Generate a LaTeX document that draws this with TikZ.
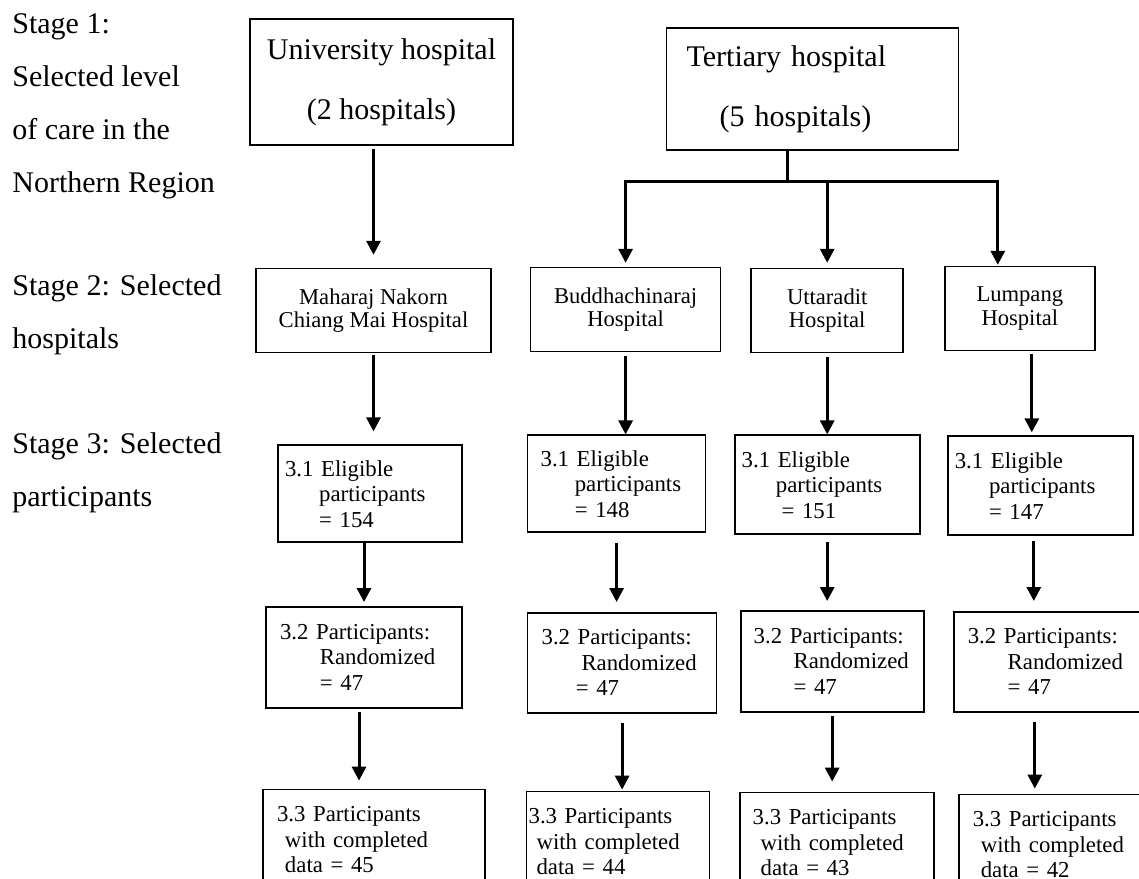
\documentclass[tikz,border=0pt]{standalone}
\usepackage{fontspec}
\setmainfont{Liberation Serif}
\usetikzlibrary{positioning}
\usetikzlibrary{arrows.meta}
\newcommand{\stagefont}{\fontsize{15}{26.5}\selectfont}
\newcommand{\levelfont}{\fontsize{15}{30}\selectfont}
\newcommand{\hospfont}{\fontsize{11.3}{11.6}\selectfont}
\newcommand{\partfont}{\fontsize{11.4}{12.75}\selectfont}
\tikzset{
  % Stage captions in the left margin
  stagelbl/.style={anchor=north west, inner sep=0pt, align=left, font=\stagefont},
  % Level of care (stage 1)
  levelbox/.style={draw, line width=0.8pt, font=\levelfont, align=center,
    inner sep=0pt, minimum width=#1, minimum height=63pt},
  % Selected hospital (stage 2)
  hospbox/.style={draw, line width=0.8pt, font=\hospfont, align=center,
    inner sep=0pt, minimum width=#1, minimum height=42pt},
  % Participant counts (stage 3): text width / left pad / height
  part/.style n args={3}{draw, line width=0.8pt, font=\partfont, align=left,
    text width=#1, inner xsep=#2, inner ysep=0pt, minimum height=#3},
  % Connectors
  arr/.style={-{Triangle[length=7pt,width=7pt]}, line width=1.5pt},
  link/.style={line width=1.5pt},
}

\begin{document}
\begin{tikzpicture}
  \clip (0,0) rectangle (569.5pt,-439pt);

  % --- Stage captions -------------------------------------------------
  \node[stagelbl] (cap1) at (6pt,-6.5pt)
       {Stage 1:\\Selected level\\of care in the\\Northern Region};
  \node[stagelbl] (cap2) at (6pt,-137pt) {Stage 2: Selected\\hospitals};
  \node[stagelbl] (cap3) at (6pt,-216pt) {Stage 3: Selected\\participants};

  % --- Stage 1 ----------------------------------------------------------
  \node[levelbox=131.5pt] (univ) at (190.75pt,-41pt)
       {University hospital\\(2 hospitals)};
  \node[levelbox=146pt, minimum height=61pt, align=left, text width=126pt,
        inner xsep=10pt, right=76pt of univ, yshift=-3.5pt] (tert)
       {Tertiary hospital\\\hspace*{16.5pt}(5 hospitals)};

  % --- Stage 2 ----------------------------------------------------------
  \node[hospbox=117.5pt, below=61pt of univ, xshift=-4pt] (mah)
       {Maharaj Nakorn\\Chiang Mai Hospital};
  \node[hospbox=95pt, right=19pt of mah, yshift=0.5pt]    (bud) {Buddhachinaraj\\Hospital};
  \node[hospbox=76pt, right=14.5pt of bud, yshift=-0.5pt] (utt) {Uttaradit\\Hospital};
  \node[hospbox=75pt, right=20pt of utt, yshift=1pt]      (lum) {Lumpang\\Hospital};

  % --- Stage 3: eligible ------------------------------------------------
  \node[part={85pt}{3.5pt}{48.5pt}, below=45.5pt of mah, xshift=-1.75pt] (e1mah)
       {3.1 Eligible\\\hspace*{1.5em}participants\\\hspace*{1.5em}= 154};
  \node[part={76pt}{6.5pt}{48.5pt}, below=41pt of bud, xshift=-4.5pt] (e1bud)
       {3.1 Eligible\\\hspace*{1.5em}participants\\\hspace*{1.5em}= 148};
  \node[part={85.5pt}{3.5pt}{49.5pt}, below=40.5pt of utt] (e1utt)
       {3.1 Eligible\\\hspace*{1.5em}participants\\\hspace*{1.75em}= 151};
  \node[part={85.5pt}{3.5pt}{49.5pt}, below=42pt of lum, xshift=10.25pt] (e1lum)
       {3.1 Eligible\\\hspace*{1.5em}participants\\\hspace*{1.5em}= 147};

  % --- Stage 3: randomized ----------------------------------------------
  \node[part={84pt}{7pt}{50.5pt}, below=31.5pt of e1mah, xshift=-3pt] (rmah)
       {3.2 Participants:\\\hspace*{1.75em}Randomized\\\hspace*{1.75em}= 47};
  \node[part={80.5pt}{7pt}{50pt}, below=39.5pt of e1bud, xshift=2.75pt] (rbud)
       {3.2 Participants:\\\hspace*{1.75em}Randomized\\\hspace*{1.5em}= 47};
  \node[part={78.5pt}{6.5pt}{50.5pt}, below=37.5pt of e1utt, xshift=2.5pt] (rutt)
       {3.2 Participants:\\\hspace*{1.75em}Randomized\\\hspace*{1.75em}= 47};
  \node[part={83.5pt}{7pt}{50pt}, below=37.5pt of e1lum, xshift=5.5pt] (rlum)
       {3.2 Participants:\\\hspace*{1.75em}Randomized\\\hspace*{1.75em}= 47};

  % --- Stage 3: completed -----------------------------------------------
  \node[part={97pt}{7pt}{50.5pt}, below=40pt of rmah, xshift=5pt] (cmah)
       {3.3 Participants\\\hspace*{0.35em}with completed\\\hspace*{0.35em}data = 45};
  \node[part={89.5pt}{1pt}{50.5pt}, below=38.5pt of rbud, xshift=-2pt] (cbud)
       {3.3 Participants\\\hspace*{0.35em}with completed\\\hspace*{0.35em}data = 44};
  \node[part={84pt}{6.5pt}{50.5pt}, below=39.5pt of rutt, xshift=2.25pt] (cutt)
       {3.3 Participants\\\hspace*{0.35em}with completed\\\hspace*{0.35em}data = 43};
  \node[part={81pt}{7pt}{50.5pt}, below=40.5pt of rlum, xshift=1.25pt] (clum)
       {3.3 Participants\\\hspace*{0.35em}with completed\\\hspace*{0.35em}data = 42};

  % --- Connectors -------------------------------------------------------
  \draw[arr, shorten <=1.5pt, shorten >=6.5pt] (mah.north |- univ.south) -- (mah.north);

  \coordinate (split)  at ([xshift=-12.5pt,yshift=-15.5pt]tert.south);
  \coordinate (lumtop) at ([xshift=-11pt]lum.north);
  \draw[link] ([xshift=-12.5pt]tert.south) -- (split);
  \draw[arr, shorten >=2pt]   (split) -| (bud.north);
  \draw[arr, shorten >=0.5pt] (split) -| (lumtop);
  \draw[arr, shorten >=2.5pt] (split -| utt.north) -- (utt.north);

  \coordinate (lumout) at ([xshift=6pt]lum.south);
  \draw[arr, shorten <=1pt, shorten >=6.5pt] (mah.south) -- (mah.south |- e1mah.north);
  \draw[arr, shorten <=2pt] (bud.south) -- (bud.south |- e1bud.north);
  \draw[arr, shorten <=2pt] (utt.south) -- (utt.south |- e1utt.north);
  \draw[arr, shorten <=1.5pt, shorten >=1.5pt] (lumout) -- (lumout |- e1lum.north);

  \coordinate (e1lumout) at ([xshift=-3.25pt]e1lum.south);
  \draw[arr, shorten >=2pt] (rmah.north |- e1mah.south) -- (rmah.north);
  \draw[arr, shorten <=5pt, shorten >=5pt] (e1bud.south) -- (e1bud.south |- rbud.north);
  \draw[arr, shorten <=3.5pt, shorten >=4.5pt] (e1utt.south) -- (e1utt.south |- rutt.north);
  \draw[arr, shorten <=2.5pt, shorten >=5pt] (e1lumout) -- (e1lumout |- rlum.north);

  \coordinate (rmahout) at ([xshift=-2.5pt]rmah.south);
  \coordinate (rlumout) at ([xshift=-8.25pt]rlum.south);
  \draw[arr, shorten <=1.5pt, shorten >=4pt] (rmahout) -- (rmahout |- cmah.north);
  \draw[arr, shorten <=4.5pt, shorten >=0.5pt] (rbud.south) -- (rbud.south |- cbud.north);
  \draw[arr, shorten <=1.5pt, shorten >=5pt] (rutt.south) -- (rutt.south |- cutt.north);
  \draw[arr, shorten <=4.5pt, shorten >=2.5pt] (rlumout) -- (rlumout |- clum.north);

\end{tikzpicture}
\end{document}
